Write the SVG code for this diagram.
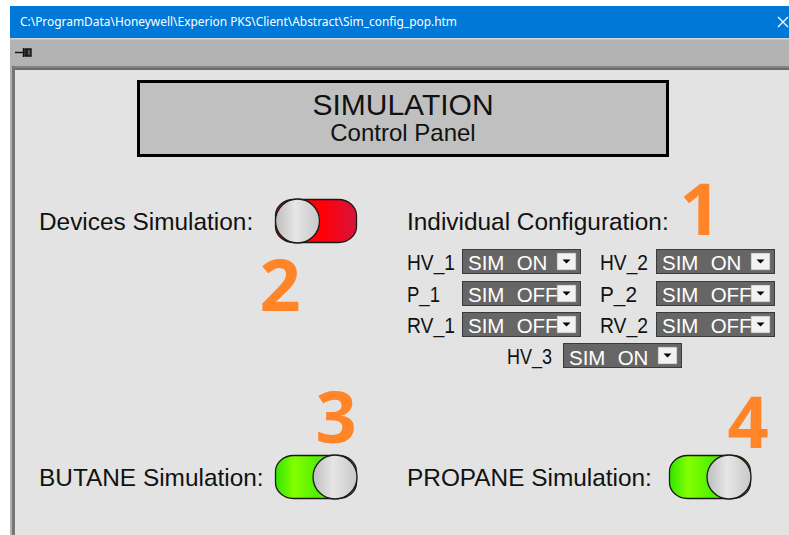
<svg xmlns="http://www.w3.org/2000/svg" width="789" height="535" viewBox="0 0 789 535">
  <defs>
    <style>
      .lbl { font-family: "Liberation Sans", Arial, sans-serif; fill: #111; }
      .big { font-size: 24.4px; }
      .row { font-size: 22px; }
      .dd-box { fill: #666666; stroke: #3a3a3a; stroke-width: 1; }
      .dd-btn { fill: #F2F2F2; stroke: #8a8a8a; stroke-width: 0.6; }
      .dd-txt { font-family: "Liberation Sans", Arial, sans-serif; font-size: 20.5px; fill: #FFFFFF; word-spacing: 6.5px; }
      .tri { fill: #000; }
      .knob { fill: url(#knobGrad); stroke: #1a1a1a; stroke-width: 1.3; }
      .pill { stroke: #1a1a1a; stroke-width: 1.3; }
      .num { font-family: "Open Sans", "DejaVu Sans", sans-serif; font-weight: 700; font-size: 72px; fill: #FF8528; text-anchor: middle; }
    </style>
    <linearGradient id="knobGrad" x1="0" y1="0" x2="1" y2="0">
      <stop offset="0" stop-color="#BDBDBD"/>
      <stop offset="0.45" stop-color="#E6E6E6"/>
      <stop offset="1" stop-color="#C8C8C8"/>
    </linearGradient>
    <linearGradient id="redGrad" x1="0" y1="0" x2="1" y2="0">
      <stop offset="0" stop-color="#FF0000"/>
      <stop offset="0.6" stop-color="#FF0008"/>
      <stop offset="1" stop-color="#D6143C"/>
    </linearGradient>
    <linearGradient id="greenGradA" gradientUnits="userSpaceOnUse" x1="275" y1="0" x2="318" y2="0">
      <stop offset="0" stop-color="#2EE400"/>
      <stop offset="0.45" stop-color="#84FF00"/>
      <stop offset="1" stop-color="#50F000"/>
    </linearGradient>
    <linearGradient id="greenGradB" gradientUnits="userSpaceOnUse" x1="669" y1="0" x2="712" y2="0">
      <stop offset="0" stop-color="#2EE400"/>
      <stop offset="0.45" stop-color="#84FF00"/>
      <stop offset="1" stop-color="#50F000"/>
    </linearGradient>
    <!-- dropdown combo: dark field with a small arrow button -->
    <g id="combo">
      <rect class="dd-box" x="0.5" y="0.5" width="118" height="24"/>
      <rect class="dd-btn" x="95" y="4" width="19" height="17"/>
      <polygon class="tri" points="100.5,10.5 108.5,10.5 104.5,14.5"/>
    </g>
  </defs>

  <!-- window frame -->
  <rect x="0" y="0" width="789" height="535" fill="#FFFFFF"/>
  <rect x="10" y="6" width="779" height="32" fill="#0078D7"/>
  <text x="20" y="26" font-family="'Noto Sans', 'Open Sans', sans-serif" font-size="12.5" fill="#FFFFFF" textLength="437" lengthAdjust="spacingAndGlyphs">C:\ProgramData\Honeywell\Experion PKS\Client\Abstract\Sim_config_pop.htm</text>
  <path d="M778,17 L788,27 M788,17 L778,27" stroke="#FFFFFF" stroke-width="1.3" fill="none"/>
  <rect x="10" y="38" width="779" height="29" fill="#B3B3B3"/>
  <rect x="10" y="38" width="779" height="1.5" fill="#D6D6D6"/>
  <rect x="10" y="66" width="779" height="2" fill="#858585"/>
  <rect x="10" y="68" width="779" height="2" fill="#6C6C6C"/>
  <rect x="10" y="70" width="779" height="465" fill="#E3E3E3"/>
  <rect x="10" y="66" width="2" height="469" fill="#B0B0B0"/>
  <rect x="12" y="66" width="3" height="469" fill="#767676"/>

  <!-- pin icon -->
  <g id="pin" stroke="#111" stroke-width="1.4">
    <path d="M15,52.5 H23" fill="none"/>
    <path d="M23.5,48 V57" fill="none"/>
    <path d="M25,49 H31 V56 H25 Z M27,49 V56" fill="#555"/>
  </g>

  <!-- header plate -->
  <g id="header">
    <rect x="138.5" y="81.5" width="529" height="74" fill="#C0C0C0" stroke="#000" stroke-width="3"/>
    <text class="lbl" x="403" y="115" font-size="30" text-anchor="middle">SIMULATION</text>
    <text class="lbl" x="403" y="141" font-size="24" text-anchor="middle">Control Panel</text>
  </g>

  <!-- master switch -->
  <g id="devices-sim">
    <text class="lbl big" x="39" y="230">Devices Simulation:</text>
    <rect class="pill" x="275.5" y="199.5" width="81" height="43" rx="18" ry="16" fill="url(#redGrad)"/>
    <circle class="knob" cx="297.5" cy="221" r="22"/>
  </g>

  <!-- per-device settings -->
  <g id="individual-config">
    <text class="lbl big" x="407" y="230">Individual Configuration:</text>

    <text class="lbl row" x="407" y="269.5" textLength="48" lengthAdjust="spacingAndGlyphs">HV_1</text>
    <use href="#combo" x="462" y="249"/>
    <text class="dd-txt" x="468" y="270">SIM ON</text>

    <text class="lbl row" x="600" y="269.5" textLength="48" lengthAdjust="spacingAndGlyphs">HV_2</text>
    <use href="#combo" x="656" y="249"/>
    <text class="dd-txt" x="662" y="270">SIM ON</text>

    <text class="lbl row" x="407" y="301.5" textLength="33" lengthAdjust="spacingAndGlyphs">P_1</text>
    <use href="#combo" x="462" y="281"/>
    <text class="dd-txt" x="468" y="302">SIM OFF</text>

    <text class="lbl row" x="600" y="301.5" textLength="37" lengthAdjust="spacingAndGlyphs">P_2</text>
    <use href="#combo" x="656" y="281"/>
    <text class="dd-txt" x="662" y="302">SIM OFF</text>

    <text class="lbl row" x="407" y="332.5" textLength="48" lengthAdjust="spacingAndGlyphs">RV_1</text>
    <use href="#combo" x="462" y="312"/>
    <text class="dd-txt" x="468" y="333">SIM OFF</text>

    <text class="lbl row" x="600" y="332.5" textLength="48" lengthAdjust="spacingAndGlyphs">RV_2</text>
    <use href="#combo" x="656" y="312"/>
    <text class="dd-txt" x="662" y="333">SIM OFF</text>

    <text class="lbl row" x="507" y="364" textLength="45" lengthAdjust="spacingAndGlyphs">HV_3</text>
    <use href="#combo" x="563" y="343"/>
    <text class="dd-txt" x="569" y="365">SIM ON</text>
  </g>

  <!-- product switches -->
  <g id="butane-sim">
    <text class="lbl big" x="39" y="486">BUTANE Simulation:</text>
    <rect class="pill" x="275.5" y="455.5" width="81" height="43" rx="18" ry="16" fill="url(#greenGradA)"/>
    <circle class="knob" cx="335" cy="477" r="22"/>
  </g>

  <g id="propane-sim">
    <text class="lbl big" x="407" y="486">PROPANE Simulation:</text>
    <rect class="pill" x="669.5" y="455.5" width="81" height="43" rx="18" ry="16" fill="url(#greenGradB)"/>
    <circle class="knob" cx="729" cy="477" r="22"/>
  </g>

  <!-- callout numbers -->
  <g id="callouts">
    <text class="num" x="700" y="235">1</text>
    <text class="num" x="280" y="311">2</text>
    <text class="num" x="336" y="443">3</text>
    <text class="num" x="748" y="448">4</text>
  </g>
</svg>
